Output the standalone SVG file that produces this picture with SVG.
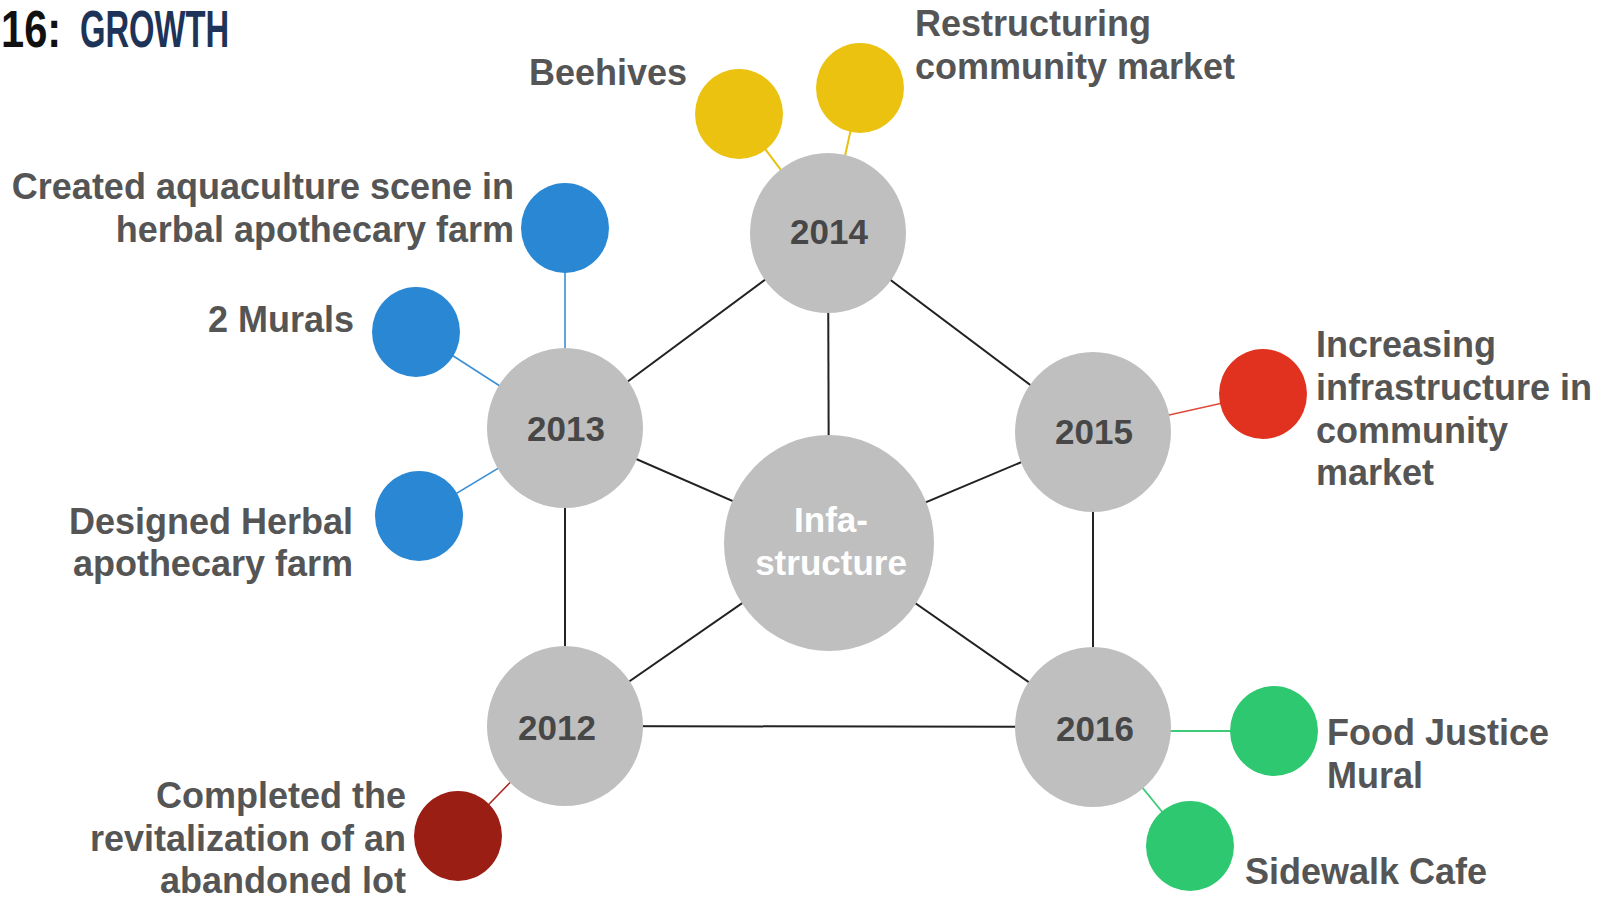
<svg xmlns="http://www.w3.org/2000/svg" width="1604" height="899" viewBox="0 0 1604 899">
<style>
.lbl{font-family:"Liberation Sans",Arial,sans-serif;font-weight:bold;font-size:36px;fill:#555555}
.yr{font-family:"Liberation Sans",Arial,sans-serif;font-weight:bold;font-size:35px;fill:#474747;text-anchor:middle}
.ttl{font-family:"Liberation Sans",Arial,sans-serif;font-weight:bold;font-size:52px}
.hub{fill:#BFBFBF}
.k{stroke:#222222;stroke-width:2;fill:none}
.cy{stroke:#E8C012;stroke-width:2}
.cb{stroke:#3A8FD4;stroke-width:1.6}
.cr{stroke:#E04A3A;stroke-width:1.6}
.cd{stroke:#A82A20;stroke-width:1.6}
.cg{stroke:#3DCB7A;stroke-width:1.8}
</style>
<rect width="1604" height="899" fill="#ffffff"/>
<g id="title">
<text class="ttl" transform="translate(1,47) scale(0.8,1)" fill="#111111">16:</text>
<text class="ttl" transform="translate(80,47) scale(0.63,1)" fill="#1E3358">GROWTH</text>
</g>
<g id="connectors">
<line class="k" x1="828" y1="233" x2="565" y2="428"/>
<line class="k" x1="828" y1="233" x2="1093" y2="432"/>
<line class="k" x1="828" y1="233" x2="829" y2="543"/>
<line class="k" x1="565" y1="428" x2="829" y2="543"/>
<line class="k" x1="1093" y1="432" x2="829" y2="543"/>
<line class="k" x1="565" y1="428" x2="565" y2="726"/>
<line class="k" x1="1093" y1="432" x2="1093" y2="727"/>
<line class="k" x1="565" y1="726" x2="829" y2="543"/>
<line class="k" x1="1093" y1="727" x2="829" y2="543"/>
<line class="k" x1="565" y1="726" x2="1093" y2="727"/>
<line class="cy" x1="739" y1="114" x2="828" y2="233"/>
<line class="cy" x1="860" y1="88" x2="828" y2="233"/>
<line class="cb" x1="565" y1="228" x2="565" y2="428"/>
<line class="cb" x1="416" y1="332" x2="565" y2="428"/>
<line class="cb" x1="419" y1="516" x2="565" y2="428"/>
<line class="cr" x1="1263" y1="394" x2="1093" y2="432"/>
<line class="cd" x1="458" y1="836" x2="565" y2="726"/>
<line class="cg" x1="1274" y1="731" x2="1093" y2="731"/>
<line class="cg" x1="1190" y1="846" x2="1093" y2="727"/>
</g>
<g id="n2014"><ellipse class="hub" cx="828" cy="233" rx="78" ry="80"/><text class="yr" x="829" y="244">2014</text></g>
<g id="n2013"><ellipse class="hub" cx="565" cy="428" rx="78" ry="80"/><text class="yr" x="566" y="441">2013</text></g>
<g id="n2015"><ellipse class="hub" cx="1093" cy="432" rx="78" ry="80"/><text class="yr" x="1094" y="444">2015</text></g>
<g id="n2012"><ellipse class="hub" cx="565" cy="726" rx="78" ry="80"/><text class="yr" x="557" y="740">2012</text></g>
<g id="n2016"><ellipse class="hub" cx="1093" cy="727" rx="78" ry="80"/><text class="yr" x="1095" y="741">2016</text></g>
<g id="center"><ellipse class="hub" cx="829" cy="543" rx="105" ry="108"/>
<text class="yr" x="831" y="532" style="fill:#ffffff">Infa-</text>
<text class="yr" x="831" y="575" style="fill:#ffffff">structure</text></g>
<g id="beehives"><ellipse cx="739" cy="114" rx="44" ry="45" fill="#EBC20F"/><text class="lbl" x="687" y="85" text-anchor="end">Beehives</text></g>
<g id="restructuring"><ellipse cx="860" cy="88" rx="44" ry="45" fill="#EBC20F"/><text class="lbl" x="915" y="36">Restructuring</text><text class="lbl" x="915" y="79">community market</text></g>
<g id="aquaculture"><ellipse cx="565" cy="228" rx="44" ry="45" fill="#2A87D3"/><text class="lbl" x="514" y="199" text-anchor="end">Created aquaculture scene in</text><text class="lbl" x="514" y="242" text-anchor="end">herbal apothecary farm</text></g>
<g id="murals"><ellipse cx="416" cy="332" rx="44" ry="45" fill="#2A87D3"/><text class="lbl" x="354" y="332" text-anchor="end">2 Murals</text></g>
<g id="designed"><ellipse cx="419" cy="516" rx="44" ry="45" fill="#2A87D3"/><text class="lbl" x="353" y="534" text-anchor="end">Designed Herbal</text><text class="lbl" x="353" y="576" text-anchor="end">apothecary farm</text></g>
<g id="increasing"><ellipse cx="1263" cy="394" rx="44" ry="45" fill="#E0321F"/><text class="lbl" x="1316" y="357">Increasing</text><text class="lbl" x="1316" y="400">infrastructure in</text><text class="lbl" x="1316" y="443">community</text><text class="lbl" x="1316" y="485">market</text></g>
<g id="completed"><ellipse cx="458" cy="836" rx="44" ry="45" fill="#9A1E14"/><text class="lbl" x="406" y="808" text-anchor="end">Completed the</text><text class="lbl" x="406" y="851" text-anchor="end">revitalization of an</text><text class="lbl" x="406" y="893" text-anchor="end">abandoned lot</text></g>
<g id="foodjustice"><ellipse cx="1274" cy="731" rx="44" ry="45" fill="#2EC870"/><text class="lbl" x="1327" y="745">Food Justice</text><text class="lbl" x="1327" y="788">Mural</text></g>
<g id="sidewalk"><ellipse cx="1190" cy="846" rx="44" ry="45" fill="#2EC870"/><text class="lbl" x="1245" y="884">Sidewalk Cafe</text></g>
</svg>
